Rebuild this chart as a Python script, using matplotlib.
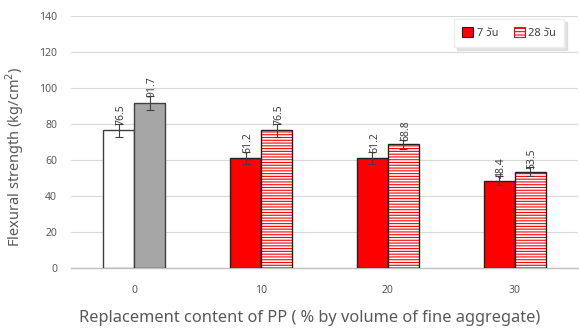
import matplotlib.pyplot as plt
import numpy as np
from matplotlib.patches import Patch

plt.rcParams["font.family"] = ["Noto Sans", "Noto Sans Thai", "DejaVu Sans"]
plt.rcParams["hatch.linewidth"] = 0.8

categories = ["0", "10", "20", "30"]
day7 = [76.5, 61.2, 61.2, 48.4]
day28 = [91.7, 76.5, 68.8, 53.5]
err7 = [3.5, 3.5, 3.5, 2.5]
err28 = [4.0, 3.5, 2.5, 2.5]
legend_labels = ["7 วัน", "28 วัน"]

fig = plt.figure(figsize=(5.79, 3.30), dpi=100)
ax = fig.add_axes([0.1226, 0.188, 0.8756, 0.7635])

x = np.arange(len(categories))
w = 0.245
grey = "#404040"

fc7 = ["white", "red", "red", "red"]
for i in range(len(categories)):
    xl = x[i] - w / 2
    xr = x[i] + w / 2
    ax.bar(xl, day7[i], w, color=fc7[i], edgecolor=grey if i == 0 else "#222222",
           linewidth=1.0, zorder=3)
    if i == 0:
        ax.bar(xr, day28[i], w, color="#a6a6a6", edgecolor=grey, linewidth=1.0, zorder=3)
    else:
        # hatch takes the edge colour, so outline is drawn separately
        ax.bar(xr, day28[i], w, color="white", edgecolor="red", hatch="------",
               linewidth=0, zorder=3)
        ax.bar(xr, day28[i], w, fill=False, edgecolor="#222222", linewidth=1.0, zorder=3)

ax.errorbar(x - w / 2, day7, yerr=err7, fmt="none", ecolor=grey, elinewidth=0.8,
            capsize=3, capthick=0.8, zorder=4)
ax.errorbar(x + w / 2, day28, yerr=err28, fmt="none", ecolor=grey, elinewidth=0.8,
            capsize=3, capthick=0.8, zorder=4)

for xs, vals, errs in [(x - w / 2, day7, err7), (x + w / 2, day28, err28)]:
    for xi, v, e in zip(xs, vals, errs):
        ax.annotate(f"{v}", (xi, v + e), xytext=(1.5, -1), textcoords="offset points",
                    rotation=90, ha="center", va="bottom", fontsize=7.5, color=grey,
                    zorder=5)

ax.set_xlim(-0.5, 3.5)
ax.set_ylim(0, 140)
ax.set_yticks(range(0, 141, 20))
ax.set_xticks(x)
ax.set_xticklabels(categories)
ax.tick_params(length=0, labelsize=7.5, labelcolor="#595959")
ax.tick_params(axis="x", pad=12)
ax.tick_params(axis="y", pad=10)
ax.grid(axis="y", color="#d9d9d9", linewidth=0.8, zorder=0)
ax.set_axisbelow(True)
for s in ["left", "right", "top"]:
    ax.spines[s].set_visible(False)
ax.spines["bottom"].set_color("#bfbfbf")
ax.spines["bottom"].set_linewidth(1.0)

fig.text(15 / 579, 1 - 157 / 330, "Flexural strength (kg/cm$^2$)", rotation=90,
         ha="center", va="center", fontsize=10.5, color="#595959")
ax.set_xlabel("Replacement content of PP ( % by volume of fine aggregate)", fontsize=11.8,
              color="#595959")
ax.xaxis.set_label_coords(0.471, -0.165)

handles = [
    Patch(facecolor="red", edgecolor="#222222", linewidth=0.8),
    Patch(facecolor="white", edgecolor="red", hatch="-----", linewidth=0.8),
]
leg = ax.legend(handles, legend_labels, loc="upper right", bbox_to_anchor=(0.984, 1.011),
                ncol=2, frameon=True, shadow={"color": "#c8c8c8"}, fancybox=False,
                fontsize=8, handlelength=1.0, handleheight=1.0, handletextpad=0.3,
                columnspacing=1.4, borderpad=0.75)
leg.get_frame().set_edgecolor("#eeeeee")
for t in leg.get_texts():
    t.set_color("#404040")

fig.savefig("out.png", dpi=100)
